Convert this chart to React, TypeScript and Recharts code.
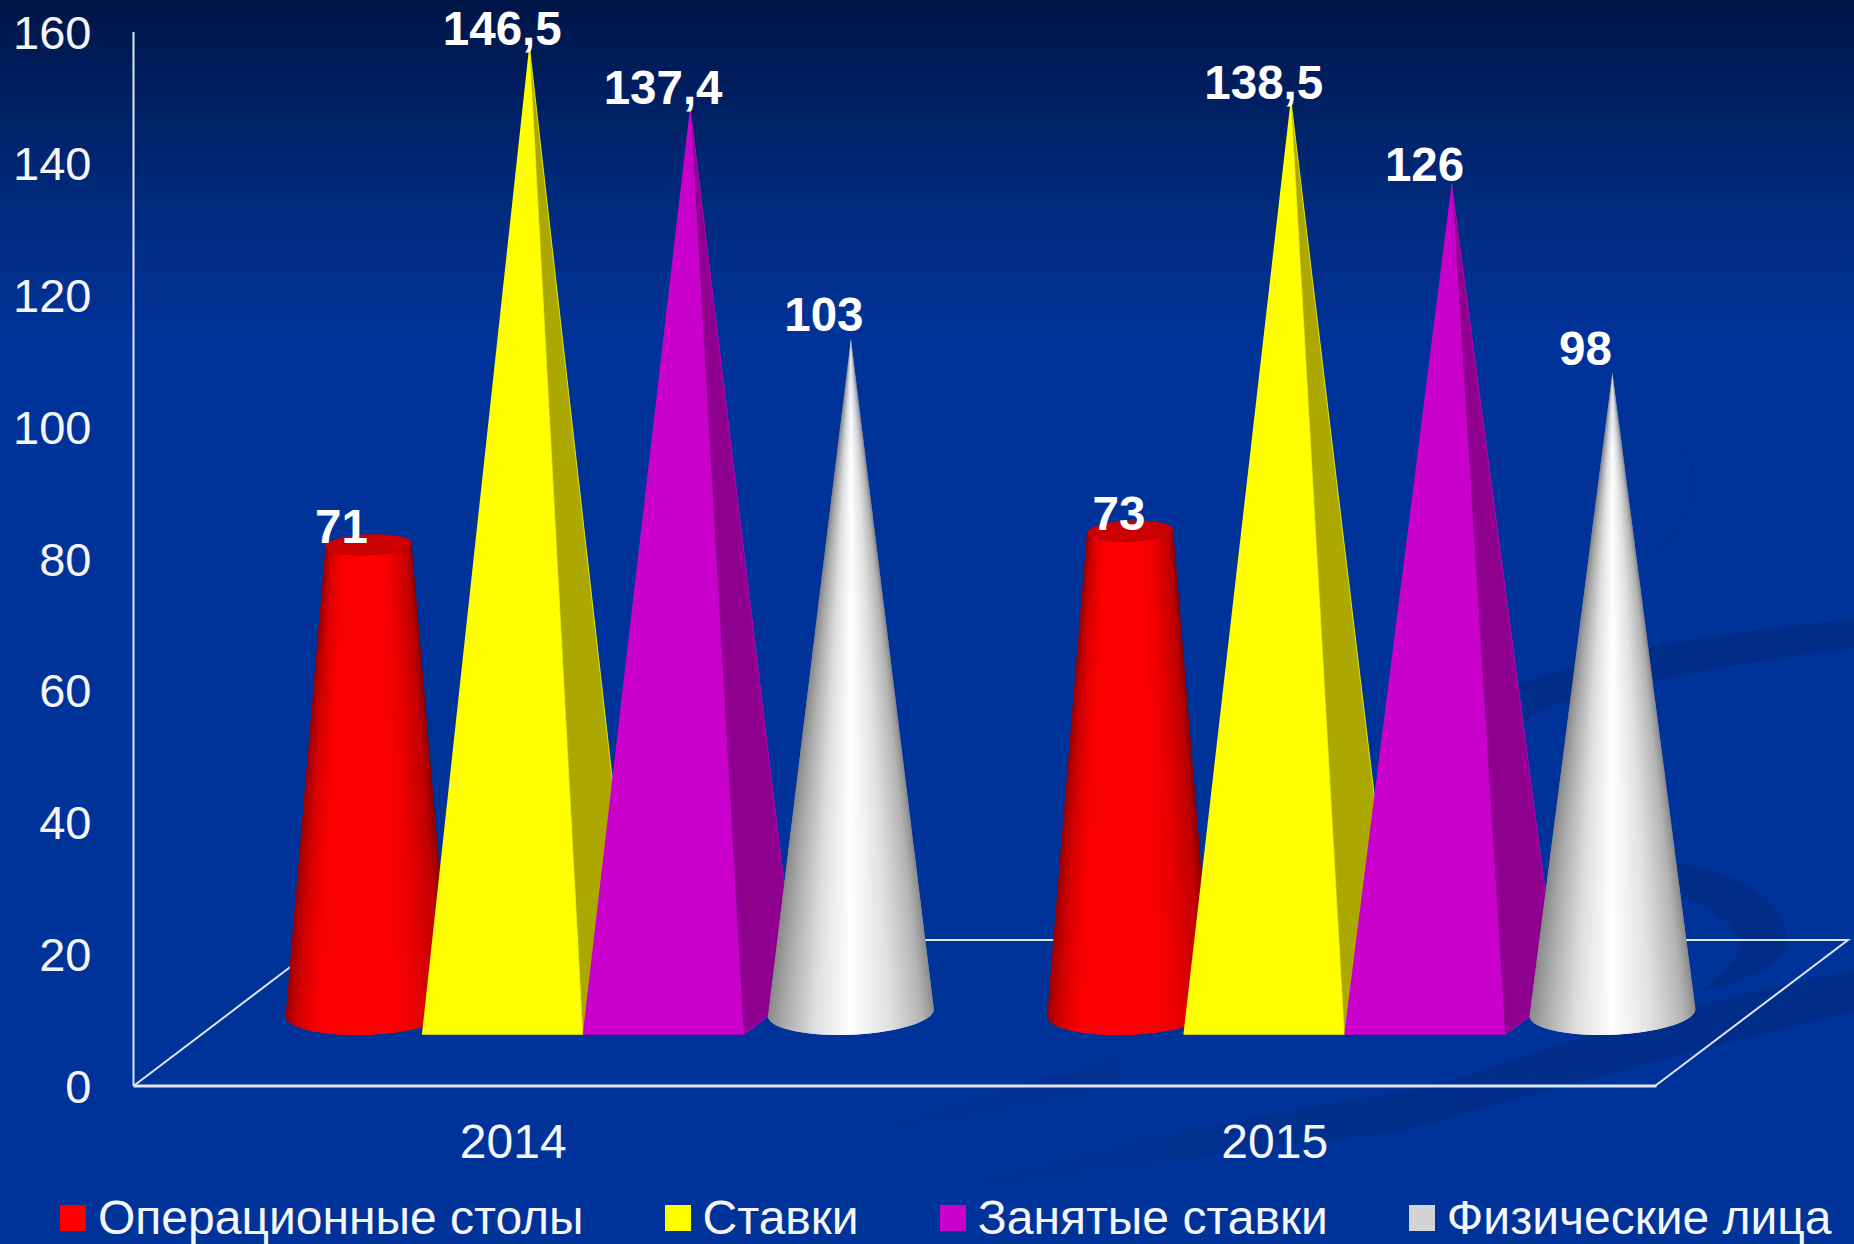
import { Bar, BarChart, LabelList, Legend, XAxis, YAxis } from 'recharts'

const categories = ['2014', '2015']
const desks = [71, 73]
const rates = [146.5, 138.5]
const occupied = [137.4, 126]
const persons = [103, 98]
const axisTicks = [0, 20, 40, 60, 80, 100, 120, 140, 160]

const data = categories.map((year, i) => ({
    year,
    desks: desks[i],
    rates: rates[i],
    occupied: occupied[i],
    persons: persons[i],
}))

const WIDTH = 1854
const HEIGHT = 1244
const TEXT = '#f4f6fb'
const LINE = '#dfe5f2'
const FONT = '"Liberation Sans", Arial, sans-serif'

// columns stand on the floor, which is pushed back from the category centre
const FLOOR_SHIFT = 68.6
const DEPTH_X = 54
const DEPTH_Y = 40

const redShades: [number, number[]][] = [
    [0, [140, 0, 0]],
    [0.07, [195, 0, 0]],
    [0.25, [238, 0, 0]],
    [0.42, [255, 0, 0]],
    [0.82, [250, 0, 0]],
    [0.93, [215, 0, 0]],
    [1, [160, 0, 0]],
]
const whiteShades: [number, number[]][] = [
    [0, [140, 140, 140]],
    [0.08, [180, 180, 180]],
    [0.28, [225, 225, 225]],
    [0.52, [255, 255, 255]],
    [0.74, [222, 222, 222]],
    [0.92, [170, 170, 170]],
    [1, [140, 140, 140]],
]

const shade = (stops: [number, number[]][], t: number): string => {
    for (let i = 1; i < stops.length; i++) {
        if (t <= stops[i][0]) {
            const [a, ca] = stops[i - 1]
            const [b, cb] = stops[i]
            const k = (t - a) / (b - a)
            const c = ca.map((v, n) => Math.round(v + (cb[n] - v) * k))
            return `rgb(${c[0]},${c[1]},${c[2]})`
        }
    }
    return 'rgb(140,140,140)'
}

// front half of a slightly tilted ellipse, left to right
const frontArc = (cx: number, cy: number, rx: number, ry: number, steps: number) => {
    const tilt = (-2.5 * Math.PI) / 180
    const pts = []
    for (let i = 0; i <= steps; i++) {
        const a = Math.PI - (Math.PI * i) / steps
        const ex = rx * Math.cos(a)
        const ey = ry * Math.sin(a)
        pts.push({
            x: cx + ex * Math.cos(tilt) - ey * Math.sin(tilt),
            y: cy + ex * Math.sin(tilt) + ey * Math.cos(tilt),
            t: (1 + Math.cos(a + Math.PI)) / 2,
        })
    }
    return pts
}

const STEPS = 60
const BASE_RX = 83
const BASE_RY = 22
const CAP_RX = 43

// each strip runs under the next one, which keeps seams out of the shading
const Cylinder = (props: any) => {
    const { x, y, width, height } = props
    const cx = x + width / 2 + FLOOR_SHIFT + DEPTH_X / 2
    const base = y + height - BASE_RY
    const top = y - 10.5
    const low = frontArc(cx, base, BASE_RX, BASE_RY, STEPS)
    const high = frontArc(cx, top, CAP_RX, 10.5, STEPS)
    return (
        <g>
            {low.slice(0, -1).map((p, i) => {
                const n = Math.min(i + 2, STEPS)
                const d = `M${p.x},${p.y}L${low[n].x},${low[n].y}L${high[n].x},${high[n].y}L${high[i].x},${high[i].y}Z`
                return <path key={i} d={d} fill={shade(redShades, p.t)} />
            })}
            <ellipse cx={cx} cy={top} rx={CAP_RX} ry={10.5} fill="#cc0000" transform={`rotate(-2.5 ${cx} ${top})`} />
        </g>
    )
}

const Pyramid = (front: string, side: string) => (props: any) => {
    const { x, y, width, height } = props
    const left = x + FLOOR_SHIFT
    const right = left + width
    const floor = y + height
    const apexX = left + width / 2 + DEPTH_X / 2
    return (
        <g>
            <polygon
                points={`${right},${floor} ${right + DEPTH_X},${floor - DEPTH_Y} ${apexX},${y}`}
                fill={side}
                stroke={front}
                strokeWidth={0.8}
            />
            <polygon points={`${left},${floor} ${right},${floor} ${apexX},${y}`} fill={front} />
        </g>
    )
}

const Cone = (props: any) => {
    const { x, y, width, height } = props
    const cx = x + width / 2 + FLOOR_SHIFT + DEPTH_X / 2
    const rim = frontArc(cx, y + height - BASE_RY, BASE_RX, BASE_RY, STEPS)
    return (
        <g>
            {rim.slice(0, -1).map((p, i) => {
                const n = rim[Math.min(i + 2, STEPS)]
                return <path key={i} d={`M${p.x},${p.y}L${n.x},${n.y}L${cx},${y}Z`} fill={shade(whiteShades, p.t)} />
            })}
        </g>
    )
}

const ValueLabel = (lift: number, nudge: number[] = [0, 0]) => (props: any) => {
    const { x, y, width, value, index } = props
    return (
        <text
            x={x + width / 2 + FLOOR_SHIFT + nudge[index]}
            y={y - lift}
            textAnchor="middle"
            fill="#ffffff"
            fontFamily={FONT}
            fontWeight="bold"
            fontSize={47.5}
        >
            {String(value).replace('.', ',')}
        </text>
    )
}

const LegendRow = (props: any) => (
    <div style={{ display: 'flex', alignItems: 'center', paddingLeft: 60, fontFamily: FONT, fontSize: 48, color: TEXT, lineHeight: '52px' }}>
        {props.payload.map((item: any) => (
            <div key={item.value} style={{ display: 'flex', alignItems: 'center', marginRight: 81, whiteSpace: 'nowrap' }}>
                <span style={{ width: 26, height: 26, background: item.color, marginRight: 12, display: 'inline-block' }} />
                {item.value}
            </div>
        ))}
    </div>
)

// backdrop ribbons and the floor frame sit behind the chart layer
const Backdrop = () => (
    <svg width={WIDTH} height={HEIGHT} style={{ position: 'absolute', left: 0, top: 0 }}>
        <defs>
            <linearGradient id="sky" x1="0" y1="0" x2="0" y2="1">
                <stop offset="0" stopColor="#001547" />
                <stop offset="0.06" stopColor="#001d5c" />
                <stop offset="0.16" stopColor="#002a7c" />
                <stop offset="0.27" stopColor="#003399" />
                <stop offset="1" stopColor="#003399" />
            </linearGradient>
            <linearGradient id="fade" x1="0" y1="0" x2="1" y2="0">
                <stop offset="0" stopColor="#002d88" stopOpacity="0" />
                <stop offset="0.5" stopColor="#002d88" stopOpacity="0.8" />
                <stop offset="1" stopColor="#002d88" />
            </linearGradient>
        </defs>
        <rect width={WIDTH} height={HEIGHT} fill="url(#sky)" />
        <g fill="#002d88">
            <path d="M1854,620 Q1660,635 1520,683 L1527,733 Q1520,712 1560,703 Q1680,670 1854,648 Z" />
            <path d="M1676,863 Q1790,885 1788,945 Q1775,975 1700,992 Q1740,960 1740,945 Q1735,915 1676,895 Z" />
        </g>
        <path d="M1854,970 Q1650,1010 1433,1086 Q1150,1130 880,1205 Q1150,1160 1400,1132 Q1650,1060 1854,1012 Z" fill="url(#fade)" />
        <path d="M1120,1057 Q1000,1090 880,1130 Q1000,1110 1120,1085 Z" fill="#002d88" opacity={0.4} />
        <path d="M1665,428 Q1700,460 1693,492 Q1680,540 1650,556" fill="none" stroke="#002d88" strokeWidth={3} opacity={0.5} />
        <polyline points="133.5,1086 326,940 1848,940 1655,1086" fill="none" stroke={LINE} strokeWidth={2} />
    </svg>
)

export default function App() {
    return (
        <div style={{ position: 'absolute', left: 0, top: 0, width: WIDTH, height: HEIGHT, overflow: 'hidden' }}>
            <Backdrop />
            <div style={{ position: 'absolute', left: 0, top: 0 }}>
                <BarChart
                    width={WIDTH}
                    height={HEIGHT}
                    data={data}
                    margin={{ top: 32, right: 197.5, left: 0, bottom: 0 }}
                    barSize={160.8}
                    barGap={0}
                >
                    <XAxis
                        dataKey="year"
                        height={98}
                        axisLine={{ stroke: LINE, strokeWidth: 3 }}
                        tickLine={false}
                        tickMargin={32}
                        tick={{ fill: TEXT, fontSize: 48, fontFamily: FONT, dx: -1 }}
                    />
                    {/* columns rise from the raised floor line, so they get their own hidden scale */}
                    <YAxis yAxisId="columns" hide width={0} domain={[-7.6, 148.5]} />
                    <YAxis
                        yAxisId="scale"
                        width={133.5}
                        type="number"
                        domain={[0, 160]}
                        allowDataOverflow
                        ticks={axisTicks}
                        interval={0}
                        axisLine={{ stroke: LINE, strokeWidth: 2 }}
                        tickLine={false}
                        tickSize={0}
                        tickMargin={42}
                        tick={{ fill: TEXT, fontSize: 47, fontFamily: FONT }}
                    />
                    <Legend
                        verticalAlign="bottom"
                        height={60}
                        content={LegendRow}
                        itemSorter={null}
                        wrapperStyle={{ left: 0, width: WIDTH, bottom: -8 }}
                    />
                    <Bar yAxisId="columns" dataKey="desks" name="Операционные столы" fill="#ff0000" shape={Cylinder} isAnimationActive={false}>
                        <LabelList dataKey="desks" content={ValueLabel(12, [0, 16])} />
                    </Bar>
                    <Bar yAxisId="columns" dataKey="rates" name="Ставки" fill="#ffff00" shape={Pyramid('#ffff00', '#aca800')} isAnimationActive={false}>
                        <LabelList dataKey="rates" content={ValueLabel(1)} />
                    </Bar>
                    <Bar yAxisId="columns" dataKey="occupied" name="Занятые ставки" fill="#cc00cc" shape={Pyramid('#cc00cc', '#8f008f')} isAnimationActive={false}>
                        <LabelList dataKey="occupied" content={ValueLabel(3)} />
                    </Bar>
                    <Bar yAxisId="columns" dataKey="persons" name="Физические лица" fill="#d4d4d4" shape={Cone} isAnimationActive={false}>
                        <LabelList dataKey="persons" content={ValueLabel(8)} />
                    </Bar>
                </BarChart>
            </div>
        </div>
    )
}
